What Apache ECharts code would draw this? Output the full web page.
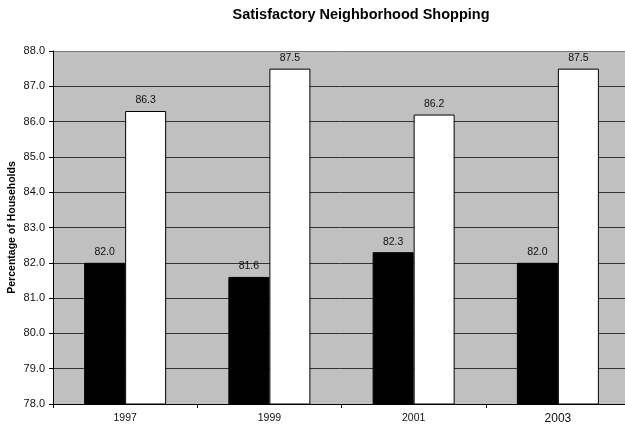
<!DOCTYPE html>
<html>
<head>
<meta charset="utf-8">
<script src="https://cdn.jsdelivr.net/npm/echarts@6/dist/echarts.min.js"></script>
<style>
  html, body { margin: 0; padding: 0; background: #fff; }
  #chart { width: 625px; height: 424px; }
</style>
</head>
<body>
<div id="chart"></div>
<script>
// Survey years and the two household percentages for each year
const years = ['1997', '1999', '2001', '2003'];
const blackSeries = [82.0, 81.6, 82.3, 82.0];
const whiteSeries = [86.3, 87.5, 86.2, 87.5];
const yTicks = { min: 78, max: 88, step: 1 };

const font = 'Liberation Sans, Arial, Helvetica, sans-serif';

const chart = echarts.init(document.getElementById('chart'));

const labelStyle = {
  show: true,
  position: 'top',
  distance: 5,
  color: '#111',
  fontSize: 10.5,
  fontFamily: font,
  formatter: p => p.value.toFixed(1)
};

// grid lines: dark inside the plot, lighter along the top edge
const gridColors = [];
for (let v = yTicks.min; v <= yTicks.max; v += yTicks.step) {
  gridColors.push(v === yTicks.max ? '#7a7a7a' : '#333');
}

chart.setOption({
  animation: false,
  backgroundColor: '#fff',
  title: {
    text: 'Satisfactory Neighborhood Shopping',
    left: 356,
    textAlign: 'center',
    top: 2,
    textStyle: { fontFamily: font, fontSize: 14.5, fontWeight: 'bold', color: '#000' }
  },
  grid: {
    left: 53, right: -5, top: 51, bottom: 20,
    containLabel: false,
    outerBoundsMode: 'none',
    show: true,
    backgroundColor: '#C0C0C0',
    borderWidth: 0
  },
  xAxis: {
    type: 'category',
    data: years,
    axisLine: { lineStyle: { color: '#000', width: 1 } },
    axisTick: { show: true, length: 4, lineStyle: { color: '#000' } },
    axisLabel: {
      color: '#111',
      fontFamily: font,
      fontSize: 10.5,
      margin: 9,
      formatter: v => v === '2003' ? '{big|' + v + '}' : v,
      rich: { big: { fontSize: 12, fontFamily: font, color: '#111' } }
    }
  },
  yAxis: {
    type: 'value',
    min: yTicks.min,
    max: yTicks.max,
    interval: yTicks.step,
    name: 'Percentage of Households',
    nameLocation: 'middle',
    nameGap: 35,
    nameRotate: 90,
    nameMoveOverlap: false,
    nameTextStyle: { fontFamily: font, fontSize: 10.5, fontWeight: 'bold', color: '#000' },
    axisLine: { show: true, lineStyle: { color: '#000', width: 1 } },
    axisTick: { show: true, length: 4, inside: false, lineStyle: { color: '#000' } },
    axisLabel: {
      color: '#111',
      fontFamily: font,
      fontSize: 11,
      margin: 8,
      formatter: v => v.toFixed(1)
    },
    splitLine: { show: true, lineStyle: { color: gridColors, width: 1 } }
  },
  series: [
    {
      type: 'bar',
      data: blackSeries,
      barWidth: 41,
      barGap: '0%',
      itemStyle: { color: '#000', borderColor: '#000', borderWidth: 1 },
      label: labelStyle
    },
    {
      type: 'bar',
      data: whiteSeries,
      barWidth: 41,
      barGap: '0%',
      itemStyle: { color: '#fff', borderColor: '#000', borderWidth: 1 },
      label: labelStyle
    }
  ]
});
</script>
</body>
</html>
